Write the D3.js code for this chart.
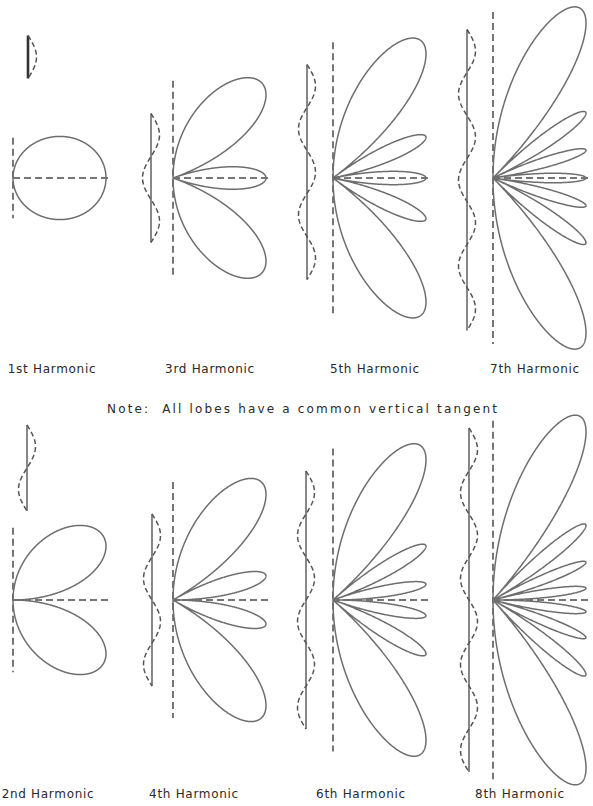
<!DOCTYPE html>
<html>
<head>
<meta charset="utf-8">
<script src="https://cdn.jsdelivr.net/npm/d3@7"></script>
<style>
  html, body { margin: 0; padding: 0; background: #fff; }
  svg { display: block; }
  .lobe { fill: none; stroke: #6e6e6e; stroke-width: 1.5; }
  .axis { fill: none; stroke: #4a4a4a; stroke-width: 1.5; stroke-dasharray: 7,4; }
  .wire { fill: none; stroke: #6a6a6a; stroke-width: 1.6; }
  .current { fill: none; stroke: #555; stroke-width: 1.5; stroke-dasharray: 5,3; }
  text { font-family: "DejaVu Sans", sans-serif; font-size: 12px; fill: #2a2a2a; letter-spacing: 0.7px; }
</style>
</head>
<body>
<svg width="593" height="806"></svg>
<script>
// harmonics in drawing order: top row then bottom row
var harmonics = [1, 3, 5, 7, 2, 4, 6, 8];
var labels = ["1st Harmonic", "3rd Harmonic", "5th Harmonic", "7th Harmonic",
              "2nd Harmonic", "4th Harmonic", "6th Harmonic", "8th Harmonic"];
var note = "Note:  All lobes have a common vertical tangent";

// layout (pixels) - not data
var rowY = [178, 600];
var wireDx = [15, -22, -26, -26, 14, -21, -27, -24];
var wireCy = [57, 178, 172, 180, 468, 600, 600, 600];
var labelX = [52, 210, 375, 535, 48, 194, 361, 520];
var labelY = [373, 798];

var svg = d3.select("svg"),
    width = +svg.attr("width"),
    height = +svg.attr("height");

var xCol = d3.scaleLinear().domain([0, 3]).range([13, 493]);
var r = d3.scaleLinear().domain([0, 1]).range([0, 93]);
var halfWave = d3.scaleLinear().domain([0, 1]).range([0, 43]);

// field strength of a wire n half-waves long, theta from the wire axis
function field(n, th) {
    var c = Math.cos(th), s = Math.sin(th);
    if (s < 1e-9) return 0;
    var num = (n % 2) ? Math.cos(n * Math.PI / 2 * c) : Math.sin(n * Math.PI / 2 * c);
    return Math.abs(num / s);
}

var thetas = d3.range(0, 2001).map(function(i) { return i / 2000 * Math.PI; });

var radial = d3.lineRadial()
    .angle(function(d) { return d.th; })
    .radius(function(d) { return r(d.f); });

harmonics.forEach(function(n, i) {
    var col = i % 4, row = Math.floor(i / 4);
    var ox = xCol(col), oy = rowY[row];
    var pts = thetas.map(function(th) { return {th: th, f: field(n, th)}; });
    var maxY = d3.max(pts, function(p) { return r(p.f) * Math.abs(Math.cos(p.th)); });

    var g = svg.append("g").attr("transform", "translate(" + ox + "," + oy + ")");

    // vertical tangent (wire axis)
    g.append("line").attr("class", "axis")
        .attr("x1", 0).attr("x2", 0)
        .attr("y1", -maxY * 0.97).attr("y2", maxY * 0.97);
    // horizontal axis
    g.append("line").attr("class", "axis")
        .attr("x1", 0).attr("x2", r(1) + 6)
        .attr("y1", 0).attr("y2", 0);
    // lobes
    g.append("path").attr("class", "lobe").attr("d", radial(pts));

    // wire with standing wave of current
    var wx = ox + wireDx[i];
    var len = halfWave(n);
    var y = d3.scaleLinear().domain([0, 1]).range([wireCy[i] - len / 2, wireCy[i] + len / 2]);
    svg.append("line").attr("class", "wire")
        .attr("x1", wx).attr("x2", wx)
        .attr("y1", y(0)).attr("y2", y(1))
        .style("stroke-width", n === 1 ? 2.6 : null)
        .style("stroke", n === 1 ? "#333" : null);
    var ts = d3.range(0, 201).map(function(k) { return k / 200; });
    var wave = d3.line()
        .x(function(t) { return wx + 8.5 * Math.sin(n * Math.PI * t); })
        .y(function(t) { return y(t); });
    svg.append("path").attr("class", "current").attr("d", wave(ts));

    svg.append("text")
        .attr("x", labelX[i]).attr("y", labelY[row])
        .attr("text-anchor", "middle")
        .text(labels[i]);
});

svg.append("text")
    .attr("x", 302).attr("y", 413)
    .attr("text-anchor", "middle")
    .attr("textLength", 390)
    .attr("lengthAdjust", "spacing")
    .style("letter-spacing", "0px")
    .style("white-space", "pre")
    .text(note);
</script>
</body>
</html>
